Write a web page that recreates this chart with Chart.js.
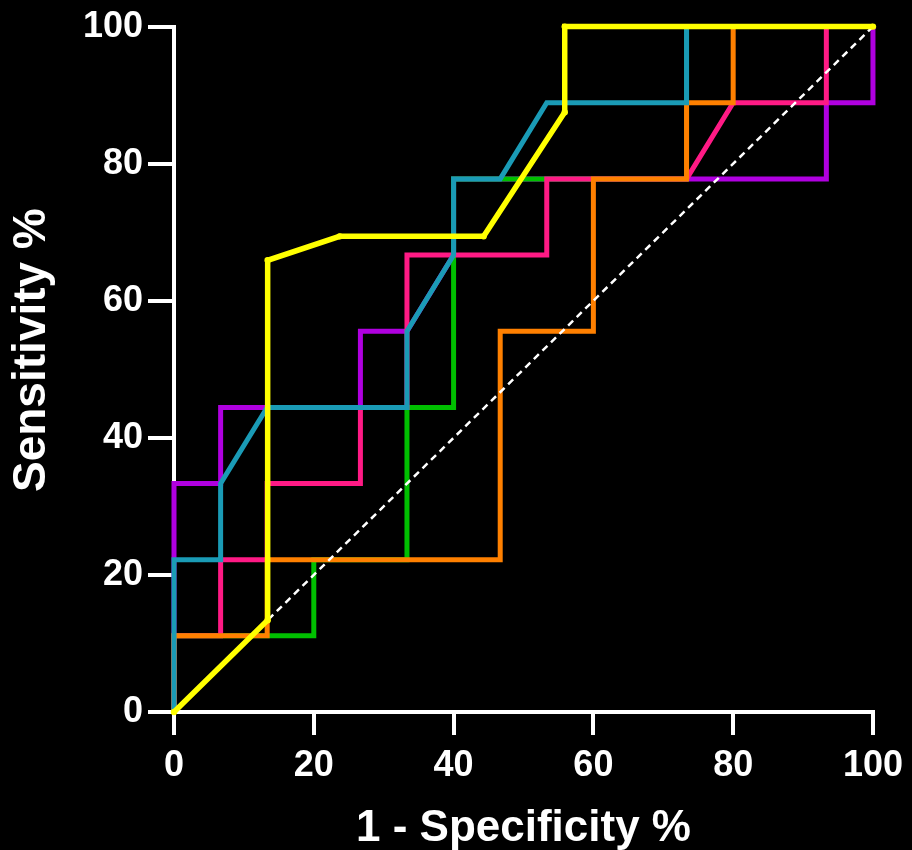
<!DOCTYPE html>
<html>
<head>
<meta charset="utf-8">
<script src="https://cdn.jsdelivr.net/npm/chart.js@4.4.1/dist/chart.umd.min.js"></script>
<style>
html, body { margin: 0; padding: 0; background: #000; }
#wrap { width: 912px; height: 850px; }
</style>
</head>
<body>
<div id="wrap"><canvas id="rocChart" width="912" height="850"></canvas></div>
<script>
// tick values used on both axes
const TICKS = [0, 20, 40, 60, 80, 100];

// curve names (the figure has no legend), top-most first
const CURVES = ['yellow', 'teal', 'orange', 'pink', 'green', 'purple'];
const COLORS = ['#ffff00', '#1a9bb6', '#ff8000', '#ff1a85', '#00c000', '#b000e0'];

// 1 - specificity % (x) and sensitivity % (y)
const yellowX = [0, 13.4, 13.4, 23.7, 44.3, 55.9, 55.9, 100];
const yellowY = [0, 13.4, 65.9, 69.4, 69.4, 87.5, 100, 100];

const tealX = [0, 0, 6.67, 6.67, 13.33, 33.33, 33.33, 40, 40, 46.67, 53.33, 73.33, 73.33, 100];
const tealY = [0, 22.22, 22.22, 33.33, 44.44, 44.44, 55.56, 66.67, 77.78, 77.78, 88.89, 88.89, 100, 100];

const orangeX = [0, 0, 13.33, 13.33, 46.67, 46.67, 60, 60, 73.33, 73.33, 80, 80, 100];
const orangeY = [0, 11.11, 11.11, 22.22, 22.22, 55.56, 55.56, 77.78, 77.78, 88.89, 88.89, 100, 100];

const pinkX = [0, 0, 6.67, 6.67, 13.33, 13.33, 26.67, 26.67, 33.33, 33.33, 53.33, 53.33, 73.33, 80, 93.33, 93.33, 100];
const pinkY = [0, 11.11, 11.11, 22.22, 22.22, 33.33, 33.33, 44.44, 44.44, 66.67, 66.67, 77.78, 77.78, 88.89, 88.89, 100, 100];

const greenX = [0, 0, 20, 20, 33.33, 33.33, 40, 40, 73.33, 73.33, 100];
const greenY = [0, 11.11, 11.11, 22.22, 22.22, 44.44, 44.44, 77.78, 77.78, 100, 100];

const purpleX = [0, 0, 6.67, 6.67, 26.67, 26.67, 33.33, 40, 40, 93.33, 93.33, 100, 100];
const purpleY = [0, 33.33, 33.33, 44.44, 44.44, 55.56, 55.56, 66.67, 77.78, 77.78, 88.89, 88.89, 100];

// chance line
const chanceX = [0, 100];
const chanceY = [0, 100];

const SERIES_X = [yellowX, tealX, orangeX, pinkX, greenX, purpleX];
const SERIES_Y = [yellowY, tealY, orangeY, pinkY, greenY, purpleY];

function toPoints(xs, ys) {
    return xs.map((x, i) => ({ x: x, y: ys[i] }));
}

const FONT = 'Liberation Sans, Arial, sans-serif';

const curveSets = CURVES.map((name, i) => ({
    label: name,
    data: toPoints(SERIES_X[i], SERIES_Y[i]),
    borderColor: COLORS[i],
    backgroundColor: COLORS[i],
    borderWidth: name === 'yellow' ? 5.5 : 5,
    pointRadius: name === 'yellow' ? 3.2 : 0,
    pointBorderWidth: 0,
    showLine: true,
    tension: 0,
    clip: 8
}));

const chanceSet = {
    label: 'chance',
    data: toPoints(chanceX, chanceY),
    borderColor: '#ffffff',
    borderWidth: 2.5,
    borderDash: [7, 5],
    pointRadius: 0,
    showLine: true,
    clip: 8
};

// yellow on top, then the dashed line, then the rest
const datasets = [curveSets[0], chanceSet].concat(curveSets.slice(1));

const blackBg = {
    id: 'blackBg',
    beforeDraw(chart) {
        const c = chart.ctx;
        c.save();
        c.fillStyle = '#000';
        c.fillRect(0, 0, chart.width, chart.height);
        c.restore();
    }
};

function fixedTicks(scale) {
    scale.ticks = TICKS.map(v => ({ value: v }));
}

new Chart(document.getElementById('rocChart'), {
    type: 'scatter',
    data: { datasets: datasets },
    options: {
        responsive: false,
        devicePixelRatio: 1,
        animation: false,
        layout: { padding: { top: 25, right: 38, left: 0, bottom: 0 } },
        plugins: {
            legend: { display: false },
            tooltip: { enabled: false }
        },
        scales: {
            x: {
                type: 'linear',
                min: 0,
                max: 100,
                afterBuildTicks: fixedTicks,
                afterFit: s => { s.height = 138; },
                ticks: { color: '#fff', padding: 9, font: { family: FONT, size: 36, weight: 'bold' } },
                grid: { drawOnChartArea: false, color: '#fff', lineWidth: 4, tickLength: 23 },
                border: { color: '#fff', width: 4 },
                title: {
                    display: true,
                    text: '1 - Specificity %',
                    color: '#fff',
                    font: { family: FONT, size: 44, weight: 'bold' },
                    padding: { top: 0, bottom: -5 }
                }
            },
            y: {
                type: 'linear',
                min: 0,
                max: 100,
                afterBuildTicks: fixedTicks,
                afterFit: s => { s.width = 174; },
                ticks: { color: '#fff', padding: 5, font: { family: FONT, size: 36, weight: 'bold' } },
                grid: { drawOnChartArea: false, color: '#fff', lineWidth: 4, tickLength: 26 },
                border: { color: '#fff', width: 4 },
                title: {
                    display: true,
                    // leading spaces nudge the rotated title upward, as in the figure
                    text: '   Sensitivity %',
                    color: '#fff',
                    font: { family: FONT, size: 46, weight: 'bold' },
                    padding: { top: 5, bottom: 0 }
                }
            }
        }
    },
    plugins: [blackBg]
});
</script>
</body>
</html>
